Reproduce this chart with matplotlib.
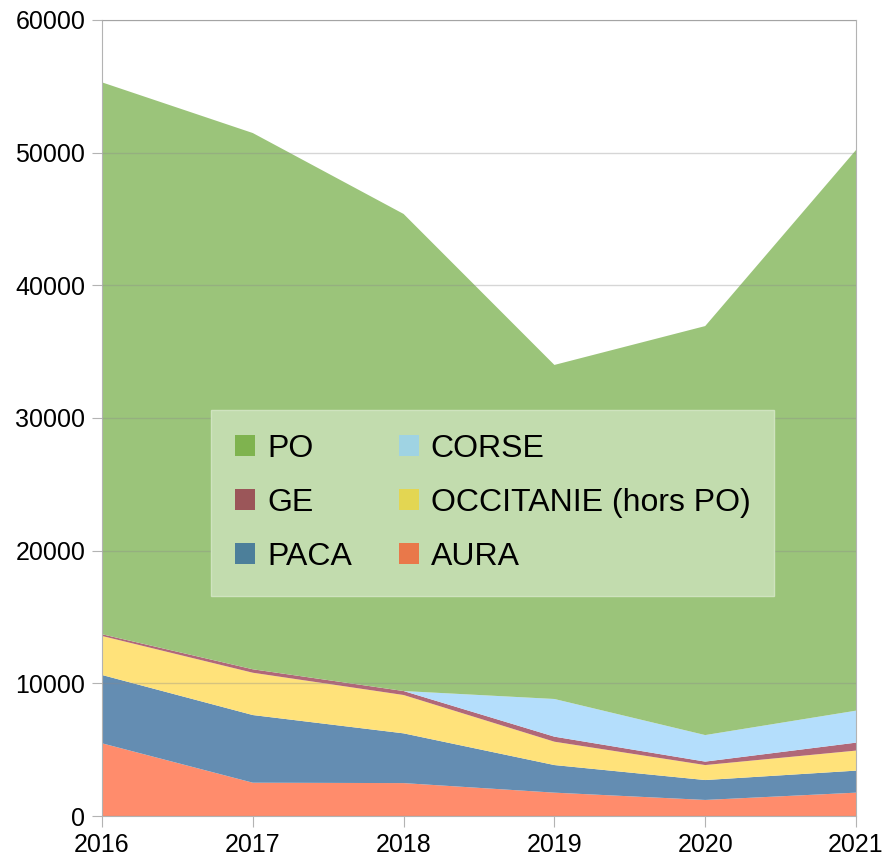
import matplotlib.pyplot as plt
from matplotlib.patches import Patch

plt.rcParams['font.family'] = ['Liberation Sans', 'DejaVu Sans']

years = [2016, 2017, 2018, 2019, 2020, 2021]
aura = [5480, 2510, 2480, 1760, 1210, 1760]
paca = [5150, 5100, 3750, 2080, 1500, 1660]
occitanie = [2940, 3190, 2890, 1760, 1130, 1510]
ge = [130, 260, 300, 380, 260, 600]
corse = [0, 0, 0, 2840, 2000, 2410]
po = [41600, 40420, 35960, 25180, 30830, 42260]

labels = ["AURA", "PACA", "OCCITANIE (hors PO)", "GE", "CORSE", "PO"]
area_colors = ["#ff8c6c", "#648db2", "#ffe27a", "#b06878", "#b4defc", "#9bc47a"]
legend_colors = ["#e9784a", "#4c7f9a", "#e3d652", "#9b5659", "#9fd3e3", "#7fb34f"]

fig = plt.figure(figsize=(8.86, 8.61), dpi=100)
ax = fig.add_axes([102 / 886, 45 / 861, 754 / 886, 796 / 861])

ax.stackplot(years, aura, paca, occitanie, ge, corse, po,
             colors=area_colors, linewidth=0, zorder=2)

ax.set_xlim(2016, 2021)
ax.set_ylim(0, 60000)
ax.set_xticks(years)
ax.set_yticks(range(0, 60001, 10000))
ax.grid(axis='y', color='#8a8a8a', alpha=0.35, linewidth=1, zorder=3)
ax.set_axisbelow(False)
for s in ax.spines.values():
    s.set_color('#b3b3b3')
ax.tick_params(axis='both', colors='#b3b3b3', labelcolor='black', labelsize=18)
ax.tick_params(axis='x', length=8, pad=4)
ax.tick_params(axis='y', length=7, pad=5)

# legend rows: PO/CORSE, GE/OCC, PACA/AURA (columns filled first)
order = [5, 3, 1, 4, 2, 0]
handles = [Patch(facecolor=legend_colors[i], edgecolor='none', label=labels[i]) for i in order]
leg = ax.legend(handles=handles, ncol=2, loc='upper left',
                bbox_to_anchor=((211 - 102) / 754, (816 - 410) / 796),
                borderaxespad=0, fontsize=23, frameon=True, fancybox=False,
                handlelength=0.62, handleheight=0.62, handletextpad=0.38,
                columnspacing=1.47, labelspacing=0.75, borderpad=0.75)
leg.get_frame().set_facecolor('#c2dcae')
leg.get_frame().set_edgecolor('#cfe3bf')
leg.get_frame().set_alpha(1)
leg.set_zorder(5)

fig.savefig('out.png', dpi=100)
